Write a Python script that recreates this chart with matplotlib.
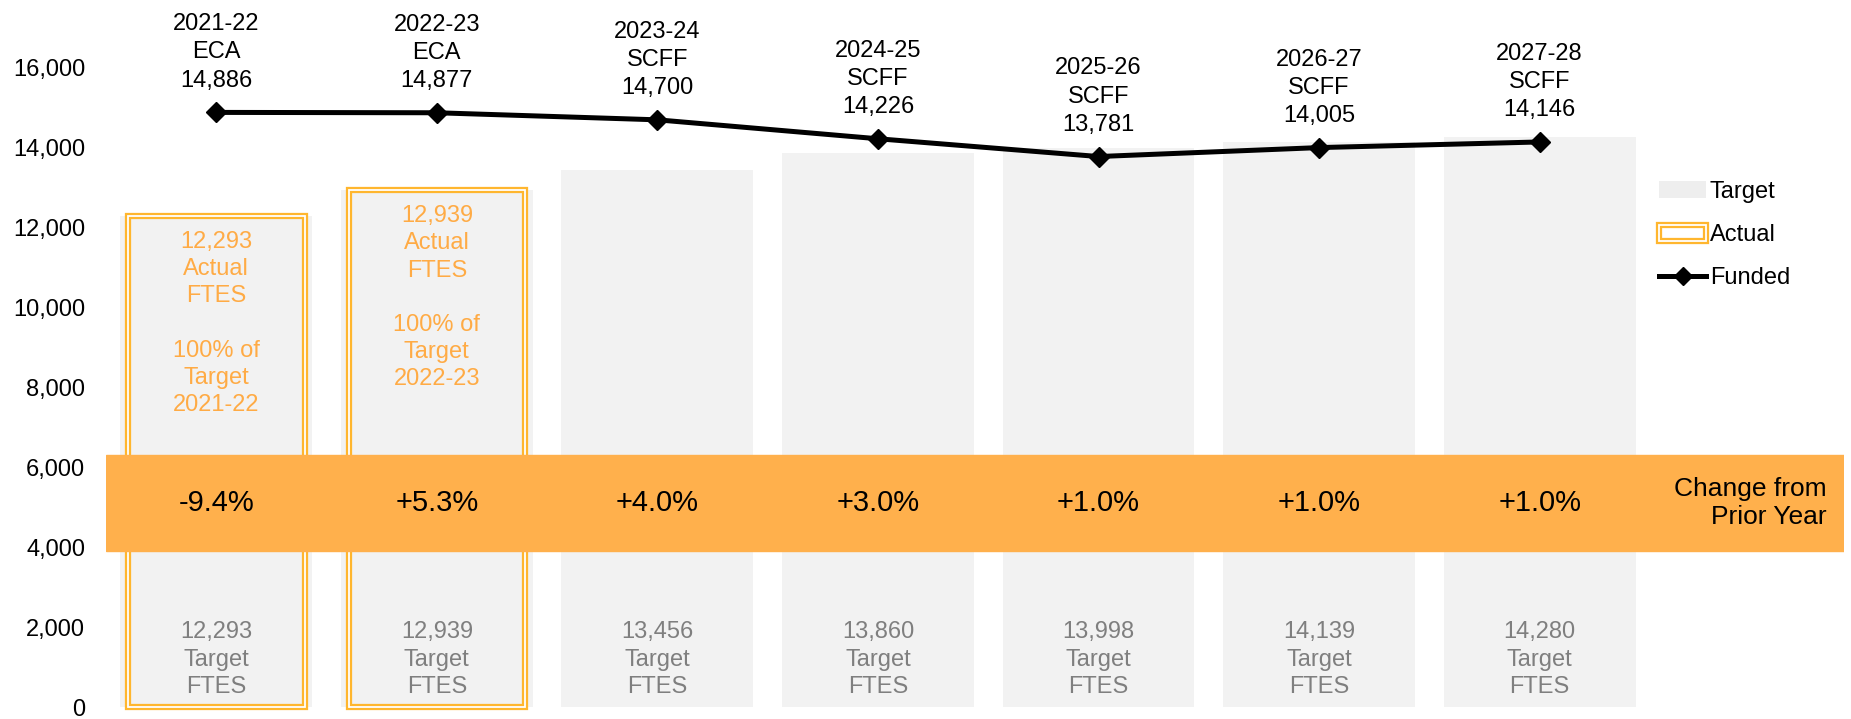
import matplotlib.pyplot as plt
from matplotlib.patches import Patch, Rectangle
from matplotlib.lines import Line2D
from matplotlib.legend_handler import HandlerBase
from matplotlib.ticker import FuncFormatter

plt.rcParams['font.family'] = ['Liberation Sans', 'DejaVu Sans']

years = ['2021-22', '2022-23', '2023-24', '2024-25', '2025-26', '2026-27', '2027-28']
basis = ['ECA', 'ECA', 'SCFF', 'SCFF', 'SCFF', 'SCFF', 'SCFF']
target = [12293, 12939, 13456, 13860, 13998, 14139, 14280]
actual = [12293, 12939]
funded = [14886, 14877, 14700, 14226, 13781, 14005, 14146]
change = ['-9.4%', '+5.3%', '+4.0%', '+3.0%', '+1.0%', '+1.0%', '+1.0%']

orange = '#FFB04C'
edge = '#FFB62E'
gray = '#F2F2F2'


class DoubleBox(HandlerBase):
    # orange double-line box for the "Actual" legend entry
    def create_artists(self, legend, orig_handle, xdescent, ydescent,
                       width, height, fontsize, trans):
        outer = Rectangle((-xdescent, -ydescent), width, height, facecolor='white',
                          edgecolor=edge, linewidth=4.5, transform=trans)
        inner = Rectangle((-xdescent, -ydescent), width, height, facecolor='none',
                          edgecolor='white', linewidth=1.3, transform=trans)
        return [outer, inner]


fig = plt.figure(figsize=(18.51, 7.19), dpi=100)
ax = fig.add_axes([106 / 1851, 12 / 719, 1738 / 1851, 707 / 719])

x = list(range(len(years)))

# target bars
ax.bar(x, target, width=0.87, color=gray, zorder=1)

# actual bars: thick orange edge with a thin white line on top -> double line
xa = x[:len(actual)]
ax.bar(xa, actual, width=0.80, facecolor='none', edgecolor=edge, linewidth=4.5, zorder=2, clip_on=False)
ax.bar(xa, actual, width=0.80, facecolor='none', edgecolor='white', linewidth=1.3, zorder=2, clip_on=False)

# change band
ax.axhspan(3900, 6300, color=orange, zorder=3)
for i in x:
    ax.text(i, 5100, change[i], ha='center', va='center', fontsize=21, zorder=4)
ax.text(0.990, 5100, 'Change from\nPrior Year', transform=ax.get_yaxis_transform(),
        ha='right', va='center', fontsize=19, zorder=4)

# labels inside bars
for i in x:
    ax.text(i, 1180, f'{target[i]:,}\nTarget\nFTES', ha='center', va='center',
            fontsize=17, color='#7F7F7F', linespacing=1.33, zorder=4)
for i in xa:
    ax.text(i, actual[i] - 380, f'{actual[i]:,}\nActual\nFTES\n\n100% of\nTarget\n{years[i]}',
            ha='center', va='top', fontsize=17, color='#FFAB45', linespacing=1.3, zorder=4)

# funded line
ax.plot(x, funded, color='black', linewidth=3.6, marker='D', markersize=10.5, zorder=5)
for i in x:
    ax.annotate(f'{years[i]}\n{basis[i]}\n{funded[i]:,}', (i, funded[i]),
                xytext=(0, 15), textcoords='offset points', ha='center', va='bottom',
                fontsize=17, linespacing=1.36, zorder=6)

ax.set_xlim(-0.5, 7.38)
ax.set_ylim(0, 17700)
ax.set_yticks(range(0, 16001, 2000))
ax.yaxis.set_major_formatter(FuncFormatter(lambda v, p: f'{int(v):,}'))
ax.tick_params(axis='y', length=0, pad=15, labelsize=17)
ax.set_xticks([])
for s in ax.spines.values():
    s.set_visible(False)

handles = [
    Patch(facecolor='#EEEEEE', edgecolor='none'),
    Patch(),
    Line2D([], [], color='black', linewidth=3.6, marker='D', markersize=9),
]
ax.legend(handles, ['Target', 'Actual', 'Funded'], loc='upper left',
          bbox_to_anchor=(0.8935, 0.744), borderaxespad=0, borderpad=0,
          frameon=False, fontsize=17, handlelength=2.0, handletextpad=0.15,
          labelspacing=0.9, handler_map={handles[1]: DoubleBox()})

fig.savefig('out.png', dpi=100)
